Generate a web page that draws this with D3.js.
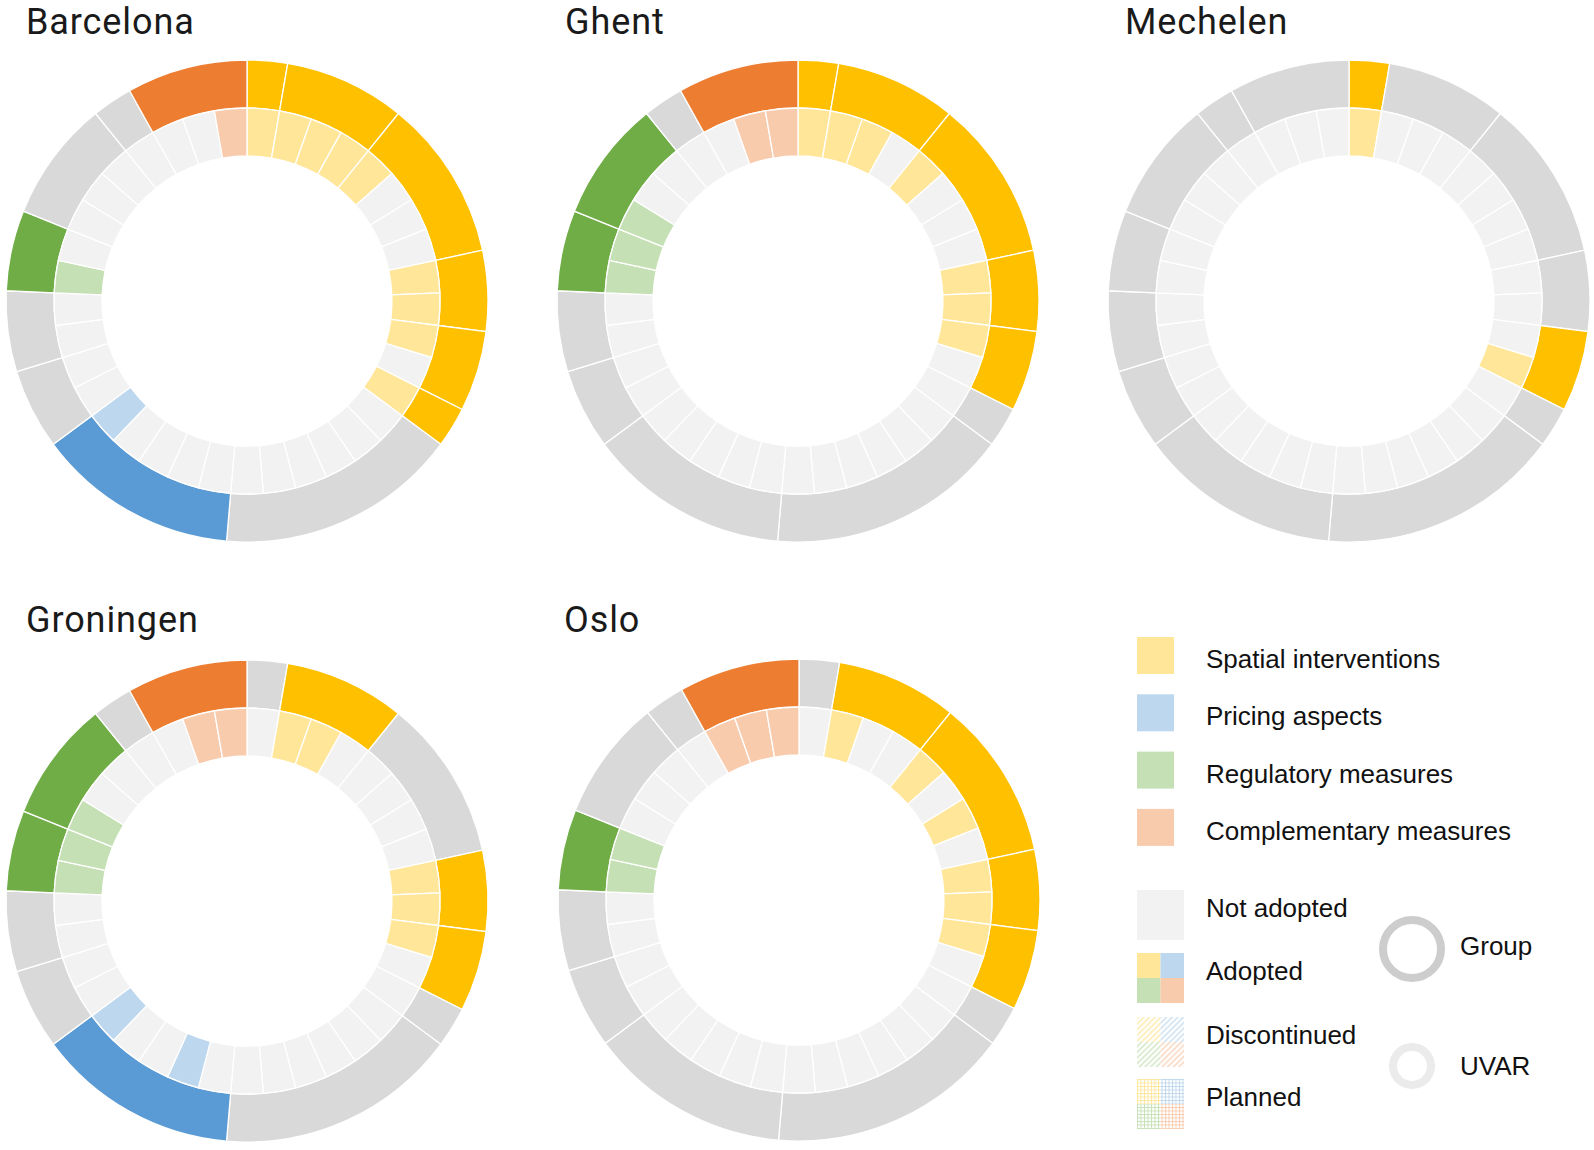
<!DOCTYPE html>
<html><head><meta charset="utf-8">
<script src="https://cdn.jsdelivr.net/npm/d3@7"></script>
<style>body{margin:0;background:#fff}</style>
</head><body>
<svg id="chart" width="1594" height="1150"></svg>
<script>
// ---------------- data ----------------
const cities = ["Barcelona", "Ghent", "Mechelen", "Groningen", "Oslo"];
const categories = ["Spatial interventions", "Pricing aspects", "Regulatory measures", "Complementary measures"];
// number of UVARs in each group (outer ring), clockwise from 12 o'clock
const groupSizes = [1, 3, 4, 2, 2, 1, 6, 5, 2, 2, 2, 3, 1, 3];
// category index of each group
const groupCategory = [0, 0, 0, 0, 0, 0, 1, 1, 2, 2, 2, 2, 3, 3];
// adopted UVARs (1-based position in the inner ring) per city
const adoptedBarcelona = [1, 2, 3, 4, 5, 9, 10, 11, 13, 24, 29, 37];
const adoptedGhent = [1, 2, 3, 5, 9, 10, 11, 29, 30, 31, 36, 37];
const adoptedMechelen = [1, 12];
const adoptedGroningen = [2, 3, 9, 10, 11, 21, 24, 29, 30, 31, 36, 37];
const adoptedOslo = [2, 5, 7, 9, 10, 11, 29, 30, 35, 36, 37];
const statusLabels = ["Not adopted", "Adopted", "Discontinued", "Planned"];
const ringLabels = ["Group", "UVAR"];

const adoptedByCity = [adoptedBarcelona, adoptedGhent, adoptedMechelen, adoptedGroningen, adoptedOslo];

// ---------------- style ----------------
const darkColors = ["#FFC000", "#5B9BD5", "#70AD47", "#ED7D31"];
const lightColors = ["#FFE699", "#BDD7EE", "#C5E0B4", "#F8CBAD"];
const greyGroup = "#D9D9D9", greyUvar = "#F2F2F2";
const panels = [
  {cx: 247, cy: 301, tx: 26, ty: 34},
  {cx: 798, cy: 301, tx: 565, ty: 34},
  {cx: 1349, cy: 301, tx: 1125, ty: 34},
  {cx: 247, cy: 901, tx: 26, ty: 632},
  {cx: 799, cy: 900, tx: 564, ty: 632}
];
const R_OUT = 241, R_MID = 193, R_IN = 145;

const svg = d3.select("#chart");
const defs = svg.append("defs");

// uvar list derived from groups
const uvars = [];
groupSizes.forEach((s, g) => { for (let k = 0; k < s; k++) uvars.push({group: g, cat: groupCategory[g]}); });

const pieGroups = d3.pie().sort(null).value(d => d.size).startAngle(0).endAngle(2 * Math.PI);
const pieUvars = d3.pie().sort(null).value(() => 1).startAngle(0).endAngle(2 * Math.PI);
const arcOuter = d3.arc().innerRadius(R_MID).outerRadius(R_OUT);
const arcInner = d3.arc().innerRadius(R_IN).outerRadius(R_MID);

cities.forEach((city, ci) => {
  const p = panels[ci];
  const adopted = new Set(adoptedByCity[ci]);
  const uv = uvars.map((u, i) => ({...u, idx: i + 1, adopted: adopted.has(i + 1)}));
  let start = 0;
  const groups = groupSizes.map((s, g) => {
    const members = uv.slice(start, start + s);
    start += s;
    return {size: s, cat: groupCategory[g], active: members.some(m => m.adopted)};
  });
  const gEl = svg.append("g").attr("transform", `translate(${p.cx},${p.cy})`);
  gEl.selectAll("path.outer").data(pieGroups(groups)).join("path")
    .attr("class", "outer")
    .attr("d", arcOuter)
    .attr("fill", d => d.data.active ? darkColors[d.data.cat] : greyGroup)
    .attr("stroke", "#fff").attr("stroke-width", 1.3);
  gEl.selectAll("path.inner").data(pieUvars(uv)).join("path")
    .attr("class", "inner")
    .attr("d", arcInner)
    .attr("fill", d => d.data.adopted ? lightColors[d.data.cat] : greyUvar)
    .attr("stroke", "#fff").attr("stroke-width", 1.3);
  svg.append("text").attr("x", p.tx).attr("y", p.ty)
    .attr("font-family", "Roboto, 'DejaVu Sans', sans-serif")
    .attr("font-size", 36).attr("letter-spacing", 0.9).attr("fill", "#1a1a1a").text(city);
});

// ---------------- legend ----------------
const legendFont = "'Liberation Sans', Arial, sans-serif";
const LX = 1137, TX = 1206;
categories.forEach((c, i) => {
  const y = 637 + i * 57.3;
  svg.append("rect").attr("x", LX).attr("y", y).attr("width", 37).attr("height", 37).attr("fill", lightColors[i]);
  svg.append("text").attr("x", TX).attr("y", y + 31).attr("font-family", legendFont)
    .attr("font-size", 26).attr("fill", "#111").text(c);
});

// patterns for discontinued / planned
lightColors.forEach((col, i) => {
  const ph = defs.append("pattern").attr("id", "hatch" + i).attr("patternUnits", "userSpaceOnUse")
    .attr("width", 4).attr("height", 4).attr("patternTransform", "rotate(45)");
  ph.append("rect").attr("width", 4).attr("height", 4).attr("fill", "#fff");
  ph.append("line").attr("x1", 1).attr("y1", 0).attr("x2", 1).attr("y2", 4).attr("stroke", col).attr("stroke-width", 1.2);
  const pg = defs.append("pattern").attr("id", "grid" + i).attr("patternUnits", "userSpaceOnUse")
    .attr("width", 3.5).attr("height", 3.5);
  pg.append("rect").attr("width", 3.5).attr("height", 3.5).attr("fill", "#fff");
  pg.append("line").attr("x1", 0).attr("y1", 0.5).attr("x2", 3.5).attr("y2", 0.5).attr("stroke", col).attr("stroke-width", 0.9);
  pg.append("line").attr("x1", 0.5).attr("y1", 0).attr("x2", 0.5).attr("y2", 3.5).attr("stroke", col).attr("stroke-width", 0.9);
});

const SW = 47, SH = 50;
const statusY = [890, 953, 1017, 1079];
statusLabels.forEach((s, i) => {
  const y = statusY[i];
  const sg = svg.append("g").attr("transform", `translate(${LX},${y})`);
  if (i === 0) {
    sg.append("rect").attr("width", SW).attr("height", SH).attr("fill", greyUvar);
  } else {
    const quads = [[0, 0, 0], [1, SW / 2, 0], [2, 0, SH / 2], [3, SW / 2, SH / 2]];
    quads.forEach(([ci, qx, qy]) => {
      const fill = i === 1 ? lightColors[ci] : (i === 2 ? `url(#hatch${ci})` : `url(#grid${ci})`);
      sg.append("rect").attr("x", qx).attr("y", qy).attr("width", SW / 2).attr("height", SH / 2).attr("fill", fill);
    });
  }
  svg.append("text").attr("x", TX).attr("y", y + 27).attr("font-family", legendFont)
    .attr("font-size", 26).attr("fill", "#111").text(s);
});

// ring legend
svg.append("circle").attr("cx", 1412).attr("cy", 949).attr("r", 29)
  .attr("fill", "none").attr("stroke", "#CDCDCD").attr("stroke-width", 8);
svg.append("text").attr("x", 1460).attr("y", 955).attr("font-family", legendFont)
  .attr("font-size", 26).attr("fill", "#111").text(ringLabels[0]);
svg.append("circle").attr("cx", 1412).attr("cy", 1066).attr("r", 19)
  .attr("fill", "none").attr("stroke", "#EBEBEB").attr("stroke-width", 8);
svg.append("text").attr("x", 1460).attr("y", 1075).attr("font-family", legendFont)
  .attr("font-size", 26).attr("fill", "#111").text(ringLabels[1]);
</script>
</body></html>
